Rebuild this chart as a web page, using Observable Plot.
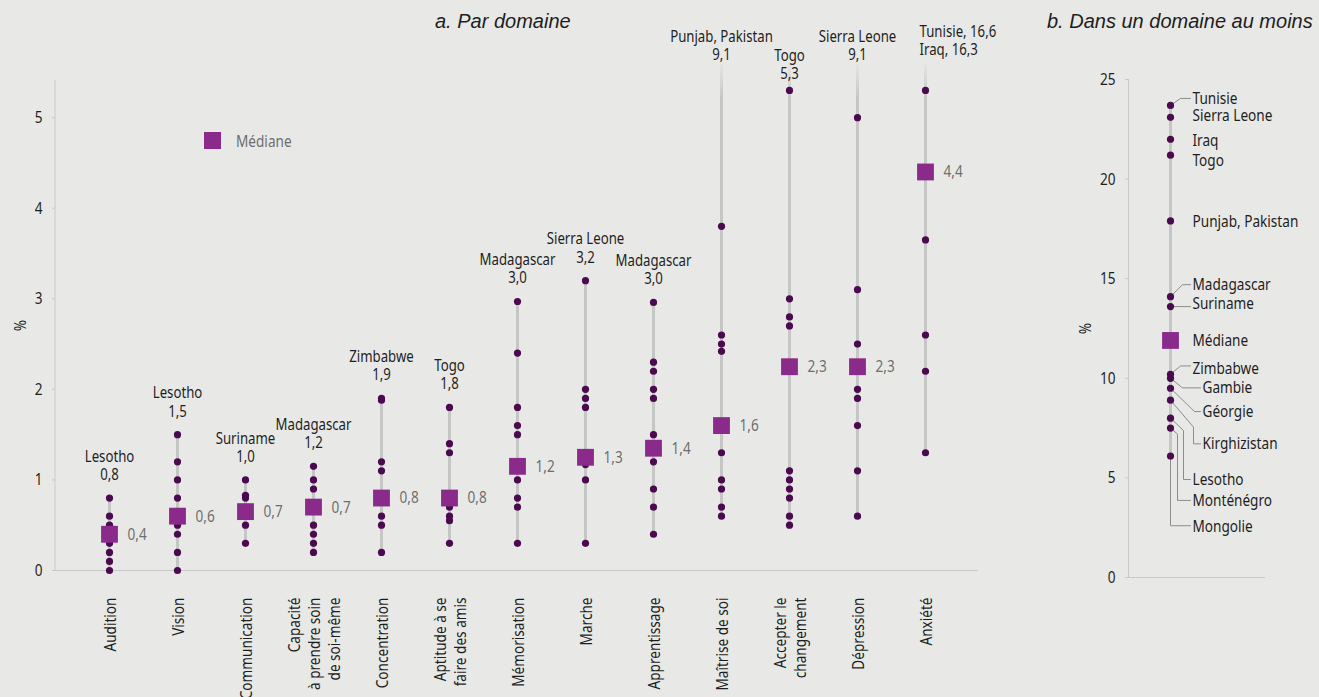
<!DOCTYPE html>
<html>
<head>
<meta charset="utf-8">
<script src="https://cdn.jsdelivr.net/npm/d3@7"></script>
<script src="https://cdn.jsdelivr.net/npm/@observablehq/plot@0.6"></script>
<style>
  html, body { margin: 0; padding: 0; background: #e8e9e7; }
  #chart {
    position: relative; width: 1319px; height: 697px; overflow: hidden;
    background: #e8e9e7; color: #1e1e1e;
    font-family: "Noto Sans", sans-serif;
  }
  .title {
    position: absolute; top: 10px; font-family: "Liberation Sans", sans-serif;
    font-style: italic; font-size: 20px; color: #1e1e1e; white-space: nowrap;
  }
  .panel { position: absolute; top: 0; }
  #legend { position: absolute; left: 204px; top: 129px; display: flex; align-items: center; font-size: 17px; color: #6e6e6e; }
  #legend span.sq { display: inline-block; width: 17px; height: 17px; background: #8a2b8c; margin-right: 15px; }
  #legend span.tx { display: inline-block; transform: scaleX(0.8); transform-origin: left center; }
</style>
</head>
<body>
<div id="chart">
  <div class="title" style="left:435px">a. Par domaine</div>
  <div class="title" style="left:1047px">b. Dans un domaine au moins</div>
  <div class="panel" id="left" style="left:0"></div>
  <div class="panel" id="right" style="left:1040px"></div>
  <div id="legend"><span class="sq"></span><span class="tx">Médiane</span></div>
</div>
<script>
// ---- a. Par domaine -------------------------------------------------------
const domains = [
  "Audition", "Vision", "Communication", "Capacité\nà prendre soin\nde soi-même",
  "Concentration", "Aptitude à se\nfaire des amis", "Mémorisation", "Marche",
  "Apprentissage", "Maîtrise de soi", "Accepter le\nchangement", "Dépression", "Anxiété"
];
// highest country per domain
const topCountry = [
  "Lesotho", "Lesotho", "Suriname", "Madagascar", "Zimbabwe", "Togo", "Madagascar",
  "Sierra Leone", "Madagascar", "Punjab, Pakistan", "Togo", "Sierra Leone", "Tunisie"
];
const topValue = [0.8, 1.5, 1.0, 1.15, 1.9, 1.8, 2.97, 3.2, 2.96, 9.1, 5.3, 9.1, 16.6];
// second highest for anxiety, named next to the leader
const runnerUpDomain = "Anxiété";
const runnerUpCountry = "Iraq";
const runnerUpValue = 16.3;
// remaining country values per domain (%)
const otherValues = [
  [0.6, 0.5, 0.3, 0.2, 0.1, 0.0],
  [1.2, 1.0, 0.8, 0.5, 0.4, 0.2, 0.0],
  [0.83, 0.8, 0.5, 0.3],
  [1.0, 0.9, 0.5, 0.4, 0.3, 0.2],
  [1.88, 1.2, 1.1, 0.6, 0.5, 0.2],
  [1.4, 1.3, 0.7, 0.6, 0.55, 0.3],
  [2.4, 1.8, 1.6, 1.5, 1.0, 0.8, 0.7, 0.3],
  [2.0, 1.9, 1.8, 1.17, 1.0, 0.3],
  [2.3, 2.2, 2.0, 1.9, 1.5, 1.2, 0.9, 0.7, 0.4],
  [3.8, 2.6, 2.5, 2.42, 1.3, 1.0, 0.9, 0.7, 0.6],
  [3.0, 2.8, 2.7, 2.2, 1.1, 1.0, 0.9, 0.8, 0.6, 0.5],
  [5.0, 3.1, 2.5, 2.0, 1.9, 1.6, 1.1, 0.6],
  [runnerUpValue, 5.3, 4.4, 3.65, 2.6, 2.2, 1.3]
];
const medians = [0.4, 0.6, 0.65, 0.7, 0.8, 0.8, 1.15, 1.25, 1.35, 1.6, 2.25, 2.25, 4.4];
const leftTicks = [0, 1, 2, 3, 4, 5];

// ---- b. Dans un domaine au moins ------------------------------------------
const countries = [
  "Tunisie", "Sierra Leone", "Iraq", "Togo", "Punjab, Pakistan", "Madagascar", "Suriname",
  "Zimbabwe", "Gambie", "Géorgie", "Kirghizistan", "Lesotho", "Monténégro", "Mongolie"
];
const anyDomain = [23.7, 23.1, 22.0, 21.2, 17.9, 14.1, 13.6, 10.2, 10.0, 9.5, 8.9, 8.0, 7.5, 6.1];
const rightTicks = [0, 5, 10, 15, 20, 25];

// name placement beside the dot column: level (%) of each name
const nameLevel = [24.05, 23.2, 21.95, 20.95, 17.87, 14.7, 13.75, 10.5, 9.52, 8.33, 6.71, 4.92, 3.87, 2.55];
// leader bends: [px right of the dot column, level %]
const leaderBends = {
  "Tunisie": [[10, 24.05], [20, 24.05]],
  "Madagascar": [[12, 14.7], [20, 14.7]],
  "Suriname": [[20, 13.6]],
  "Zimbabwe": [[10, 10.62], [20, 10.62]],
  "Gambie": [[12, 9.52], [30, 9.52]],
  "Géorgie": [[24, 8.33], [30, 8.33]],
  "Kirghizistan": [[23, 7.55], [23, 6.71], [30, 6.71]],
  "Lesotho": [[13, 7.38], [13, 4.92], [20, 4.92]],
  "Monténégro": [[7, 7.2], [7, 3.87], [20, 3.87]],
  "Mongolie": [[0, 2.6], [20, 2.6]]
};

// ---- styling -----------------------------------------------------------------
const FONT = '"Noto Sans", sans-serif';
const NARROW = 0.8; // horizontal compression giving a condensed face
const BG = "#e8e9e7", DOT = "#4b0a4f", MED = "#8a2b8c", RANGE = "#c6c6c6";
const AXIS = "#c9c9c9", INK = "#1e1e1e", MUTED = "#6e6e6e", LEADER = "#8c8c8c";
const svgStyle = {fontFamily: FONT, fontSize: "17px", color: INK, background: "transparent", overflow: "visible"};

// French decimal, halves rounded up
const fmt = v => (Math.round(v * 10 + 1e-6) / 10).toFixed(1).replace(".", ",");

const yMax = 5.41; // top of the left value axis
const yCap = 5.6;  // where range lines of off-scale domains stop

const rows = domains.flatMap((d, i) =>
  [topValue[i], ...otherValues[i]].filter(v => v <= yMax).map(v => ({domain: d, value: v})));
const stats = domains.map((d, i) => {
  const all = [topValue[i], ...otherValues[i]];
  return {
    domain: d, min: d3.min(all), top: topValue[i], country: topCountry[i],
    lineTop: topValue[i] > 5 ? yCap : topValue[i], median: medians[i]
  };
});

// gradient fading the range lines into the background near the top
const fadeDefs = () => {
  const defs = d3.create("svg:defs");
  const g = defs.append("linearGradient").attr("id", "fade")
    .attr("gradientUnits", "userSpaceOnUse").attr("x1", 0).attr("x2", 0).attr("y1", 60).attr("y2", 98);
  g.append("stop").attr("offset", 0).attr("stop-color", BG);
  g.append("stop").attr("offset", 1).attr("stop-color", RANGE);
  return defs.node();
};
// vertical axis line at the left edge of the frame
const leftAxisLine = (index, scales, values, dims) =>
  d3.create("svg:line")
    .attr("x1", dims.marginLeft).attr("x2", dims.marginLeft)
    .attr("y1", scales.y(yMax)).attr("y2", scales.y(0))
    .attr("stroke", AXIS).node();

const textStyle = {fill: INK, fontSize: 16.5, lineHeight: 1.1, lineAnchor: "middle"};
const label = d => `${d.country}\n${fmt(d.top)}`;

const left = Plot.plot({
  width: 1000, height: 697,
  marginLeft: 55, marginRight: 22, marginTop: 80, marginBottom: 127,
  style: svgStyle,
  x: {type: "point", domain: domains, padding: 0.717},
  y: {domain: [0, yMax]},
  marks: [
    fadeDefs,
    leftAxisLine,
    Plot.ruleY([0], {stroke: AXIS}),
    Plot.axisY({
      ticks: leftTicks, tickFormat: d => String(d), tickSize: 3, tickPadding: 10,
      stroke: AXIS, fill: INK, fontSize: 17,
      label: "%", labelAnchor: "center", labelOffset: 42, labelArrow: "none"
    }),
    Plot.axisX({tickSize: 0, tickPadding: 27, tickRotate: -90, fill: INK, fontSize: 17, lineHeight: 1.2, label: null}),
    Plot.ruleX(stats, {x: "domain", y1: "min", y2: "lineTop", stroke: "url(#fade)", strokeWidth: 3}),
    Plot.dot(rows, {x: "domain", y: "value", r: 3.6, fill: DOT}),
    Plot.dot(stats, {x: "domain", y: "median", symbol: "square", r: 9.5, fill: MED}),
    Plot.text(stats, {x: "domain", y: "median", text: d => fmt(d.median), dx: 18, textAnchor: "start", fill: MUTED, fontSize: 17}),
    // names of the highest country, above the range line
    Plot.text(stats.filter(d => d.top <= 5), {x: "domain", y: "top", text: label, dy: -33, ...textStyle}),
    Plot.text(stats.filter(d => d.top > 5 && d.top <= yMax), {x: "domain", y: "top", text: label, dy: -26, ...textStyle}),
    Plot.text(stats.filter(d => d.top > yMax && d.domain !== runnerUpDomain),
      {x: "domain", y: () => yCap, text: label, dy: -18, ...textStyle}),
    Plot.text(stats.filter(d => d.domain === runnerUpDomain), {
      x: "domain", y: () => yCap, dx: -6, dy: -23, textAnchor: "start", ...textStyle,
      text: d => `${d.country}, ${fmt(d.top)}\n${runnerUpCountry}, ${fmt(runnerUpValue)}`
    })
  ]
});
document.getElementById("left").append(left);

// ---- right panel -----------------------------------------------------------
const people = countries.map((c, i) => ({country: c, value: anyDomain[i], level: nameLevel[i]}));
const leaders = people.flatMap(p => {
  const bends = leaderBends[p.country];
  if (!bends) return [];
  return [[0, p.value], ...bends].map(([x, y]) => ({country: p.country, x, y}));
});
const nameX = p => {
  const bends = leaderBends[p.country];
  return bends ? bends[bends.length - 1][0] + 2 : 22;
};
const med = d3.median(anyDomain);

const right = Plot.plot({
  width: 279, height: 697,
  marginLeft: 88, marginRight: 54, marginTop: 79, marginBottom: 120,
  style: svgStyle,
  x: {domain: [-42, 95], axis: null},
  y: {domain: [0, 25]},
  marks: [
    Plot.ruleX([-42], {y1: 0, y2: 25, stroke: AXIS}),
    Plot.ruleY([0], {stroke: AXIS}),
    Plot.axisY({
      ticks: rightTicks, tickFormat: d => String(d), tickSize: 3, tickPadding: 10,
      stroke: AXIS, fill: INK, fontSize: 17,
      label: "%", labelAnchor: "center", labelOffset: 50, labelArrow: "none"
    }),
    Plot.ruleX([0], {y1: d3.min(anyDomain), y2: d3.max(anyDomain), stroke: RANGE, strokeWidth: 3}),
    Plot.line(leaders, {x: "x", y: "y", z: "country", stroke: LEADER, strokeWidth: 1, curve: "linear"}),
    Plot.dot(people, {x: () => 0, y: "value", r: 3.6, fill: DOT}),
    Plot.dot([med], {x: () => 0, y: d => d, symbol: "square", r: 9.5, fill: MED}),
    Plot.text([med], {x: () => 22, y: d => d, text: () => "Médiane", textAnchor: "start", fill: INK, fontSize: 17}),
    Plot.text(people, {x: nameX, y: "level", text: "country", textAnchor: "start", fill: INK, fontSize: 17})
  ]
});
document.getElementById("right").append(right);

// condense every label along its own writing direction
function condense(svg, k) {
  svg.querySelectorAll("text").forEach(t => {
    const spans = t.querySelectorAll("tspan");
    (spans.length ? Array.from(spans) : [t]).forEach(el => {
      const len = el.getComputedTextLength();
      if (len > 0) {
        el.setAttribute("textLength", (len * k).toFixed(2));
        el.setAttribute("lengthAdjust", "spacingAndGlyphs");
      }
    });
  });
}
condense(left, NARROW);
condense(right, NARROW);
</script>
</body>
</html>
